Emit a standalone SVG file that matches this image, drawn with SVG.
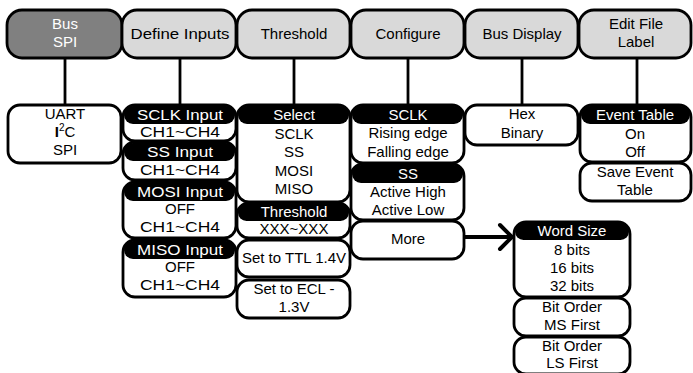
<svg xmlns="http://www.w3.org/2000/svg" width="693" height="373" viewBox="0 0 693 373">
<style>
text{font-family:"Liberation Sans",Arial,sans-serif;font-size:15px;text-anchor:middle;fill:#000}
.top{fill:#d9d9d9;stroke:#000;stroke-width:2.8}
.dark{fill:#808080;stroke:#000;stroke-width:2.8}
.box{fill:#fff;stroke:#000;stroke-width:2.8}
.hd{fill:#000}
text.w{fill:#fff}
.conn{stroke:#000;stroke-width:2.8;fill:none}
.arrow{stroke:#000;stroke-width:4;fill:none;stroke-linecap:round}
</style>
<rect width="693" height="373" fill="#fff"/>
<g id="connectors">
<line class="conn" x1="65" y1="58" x2="65" y2="106"/>
<line class="conn" x1="180" y1="58" x2="180" y2="106"/>
<line class="conn" x1="294" y1="58" x2="294" y2="106"/>
<line class="conn" x1="408" y1="58" x2="408" y2="106"/>
<line class="conn" x1="522" y1="58" x2="522" y2="106"/>
<line class="conn" x1="637" y1="58" x2="637" y2="106"/>
<line class="arrow" x1="465" y1="237" x2="511" y2="237"/>
<polyline class="arrow" points="500,225 512,237 500,249"/>
</g>
<g id="bus"><rect class="dark" x="7" y="10" width="115" height="48" rx="15"/><text class="w" x="65" y="29">Bus</text><text class="w" x="65" y="47">SPI</text></g>
<g id="define"><rect class="top" x="122" y="10" width="114" height="48" rx="15"/><text x="180" y="39" textLength="99" lengthAdjust="spacingAndGlyphs">Define Inputs</text></g>
<g id="threshold"><rect class="top" x="237" y="10" width="113" height="48" rx="15"/><text x="294" y="39">Threshold</text></g>
<g id="configure"><rect class="top" x="351" y="10" width="113" height="48" rx="15"/><text x="408" y="39">Configure</text></g>
<g id="busdisplay"><rect class="top" x="465" y="10" width="113" height="48" rx="15"/><text x="522" y="39">Bus Display</text></g>
<g id="editfile"><rect class="top" x="579" y="10" width="112" height="48" rx="15"/><text x="636" y="29">Edit File</text><text x="636" y="47">Label</text></g>

<g id="buslist"><rect class="box" x="8" y="105" width="113" height="58" rx="12"/><text x="65" y="119">UART</text><text x="65" y="137"><tspan font-weight="bold">I</tspan><tspan font-size="10" dy="-6">2</tspan><tspan dy="6">C</tspan></text><text x="65" y="155">SPI</text></g>

<g id="sclkin"><rect class="box" x="123" y="105" width="113" height="36" rx="12"/><rect class="hd" x="124" y="106" width="111" height="18" rx="9"/><text class="w" x="180" y="120" textLength="86" lengthAdjust="spacingAndGlyphs">SCLK Input</text><text x="180" y="137" textLength="80" lengthAdjust="spacingAndGlyphs">CH1~CH4</text></g>
<g id="ssin"><rect class="box" x="123" y="142" width="113" height="38" rx="12"/><rect class="hd" x="124" y="143" width="111" height="18" rx="9"/><text class="w" x="180" y="157" textLength="66" lengthAdjust="spacingAndGlyphs">SS Input</text><text x="180" y="175" textLength="80" lengthAdjust="spacingAndGlyphs">CH1~CH4</text></g>
<g id="mosiin"><rect class="box" x="123" y="182" width="113" height="56" rx="12"/><rect class="hd" x="124" y="183" width="111" height="18" rx="9"/><text class="w" x="180" y="197" textLength="86" lengthAdjust="spacingAndGlyphs">MOSI Input</text><text x="180" y="214">OFF</text><text x="180" y="232" textLength="80" lengthAdjust="spacingAndGlyphs">CH1~CH4</text></g>
<g id="misoin"><rect class="box" x="123" y="240" width="113" height="57" rx="12"/><rect class="hd" x="124" y="241" width="111" height="18" rx="9"/><text class="w" x="180" y="255" textLength="86" lengthAdjust="spacingAndGlyphs">MISO Input</text><text x="180" y="272">OFF</text><text x="180" y="290" textLength="80" lengthAdjust="spacingAndGlyphs">CH1~CH4</text></g>

<g id="select"><rect class="box" x="237" y="105" width="113" height="97" rx="12"/><rect class="hd" x="238" y="106" width="111" height="18" rx="9"/><text class="w" x="294" y="120">Select</text><text x="294" y="139">SCLK</text><text x="294" y="157">SS</text><text x="294" y="176">MOSI</text><text x="294" y="194">MISO</text></g>
<g id="thrval"><rect class="box" x="237" y="203" width="113" height="35" rx="12"/><rect class="hd" x="238" y="204" width="111" height="17" rx="8.5"/><text class="w" x="294" y="217">Threshold</text><text x="294" y="234">XXX~XXX</text></g>
<g id="ttl"><rect class="box" x="237" y="240" width="113" height="37" rx="12"/><text x="294" y="263">Set to TTL 1.4V</text></g>
<g id="ecl"><rect class="box" x="237" y="280" width="113" height="38" rx="12"/><text x="294" y="294">Set to ECL -</text><text x="294" y="312">1.3V</text></g>

<g id="sclkcfg"><rect class="box" x="351" y="105" width="113" height="58" rx="12"/><rect class="hd" x="352" y="106" width="111" height="18" rx="9"/><text class="w" x="408" y="120">SCLK</text><text x="408" y="138">Rising edge</text><text x="408" y="157">Falling edge</text></g>
<g id="sscfg"><rect class="box" x="351" y="164" width="113" height="56" rx="12"/><rect class="hd" x="352" y="165" width="111" height="18" rx="9"/><text class="w" x="408" y="179">SS</text><text x="408" y="197">Active High</text><text x="408" y="215">Active Low</text></g>
<g id="more"><rect class="box" x="351" y="221" width="113" height="38" rx="12"/><text x="408" y="244">More</text></g>

<g id="format"><rect class="box" x="465" y="105" width="113" height="40" rx="12"/><text x="522" y="119">Hex</text><text x="522" y="138">Binary</text></g>

<g id="eventtable"><rect class="box" x="580" y="105" width="111" height="57" rx="12"/><rect class="hd" x="581" y="106" width="109" height="18" rx="9"/><text class="w" x="635" y="120">Event Table</text><text x="635" y="139">On</text><text x="635" y="157">Off</text></g>
<g id="saveevent"><rect class="box" x="580" y="163" width="111" height="38" rx="12"/><text x="635" y="177">Save Event</text><text x="635" y="195">Table</text></g>

<g id="wordsize"><rect class="box" x="514" y="222" width="116" height="75" rx="12"/><rect class="hd" x="515" y="223" width="114" height="17" rx="8.5"/><text class="w" x="572" y="236">Word Size</text><text x="572" y="255">8 bits</text><text x="572" y="273">16 bits</text><text x="572" y="291">32 bits</text></g>
<g id="msfirst"><rect class="box" x="514" y="298" width="116" height="38" rx="12"/><text x="572" y="312">Bit Order</text><text x="572" y="330">MS First</text></g>
<g id="lsfirst"><rect class="box" x="514" y="337" width="116" height="37" rx="12"/><text x="572" y="351">Bit Order</text><text x="572" y="368">LS First</text></g>
</svg>
